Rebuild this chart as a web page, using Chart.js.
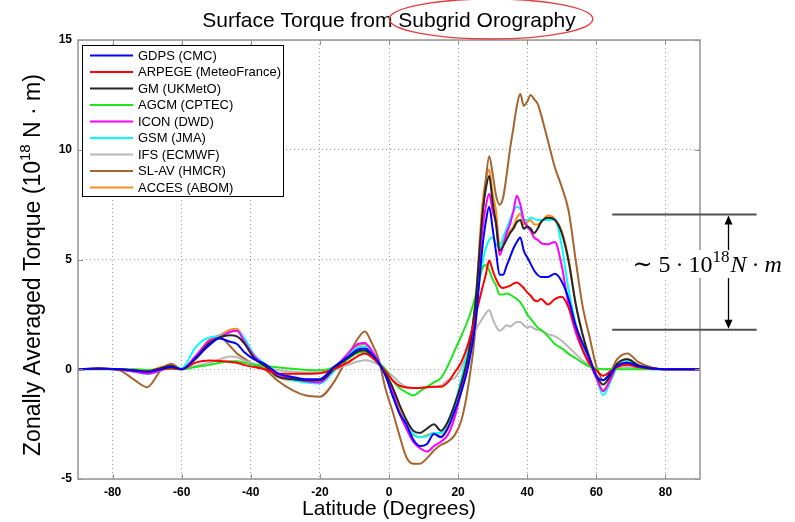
<!DOCTYPE html>
<html>
<head>
<meta charset="utf-8">
<script src="https://cdnjs.cloudflare.com/ajax/libs/Chart.js/4.4.1/chart.umd.min.js"></script>
<style>
  html, body { margin: 0; padding: 0; background: #fff; }
  canvas { display: block; }
</style>
</head>
<body>
<canvas id="torque" width="795" height="522"></canvas>
<script>
// ── Data ────────────────────────────────────────────────────────────────────

const LAT = [
  -90, -84, -78, -74, -70, -66, -63, -60,
  -56, -52, -49, -46, -44, -42, -39, -36,
  -32, -28, -24, -20, -16, -12,  -9,  -7,
   -5,  -3,  -1,   1,   3,   5,   7,   9,
   11,  13,  15,  17,  19,  21,  23,  25,
   27,  28,  29,  30,  31,  32,  33,  34,
   35,  36,  37,  38,  39,  40,  41,  42,
   43,  44,  46,  48,  50,  52,  54,  56,
   58,  60,  62,  64,  66,  69,  72,  76,
   80,  90
];

const X_TICKS = [-80, -60, -40, -20, 0, 20, 40, 60, 80];
const Y_TICKS = [-5, 0, 5, 10, 15];

const GDPS = [
  0, 0.03, 0, -0.05, -0.12, 0, 0.1, 0,
  0.5, 1.1, 1.4, 1.25, 1.15, 0.8, 0.45, 0.25,
  -0.2, -0.35, -0.45, -0.45, 0.1, 0.55, 0.9, 0.95,
  0.7, 0.3, -0.3, -1.2, -2.0, -2.5, -3.2, -3.5,
  -3.4, -2.95, -3.1, -2.7, -1.9, -1.0, 0.2, 2.1,
  5.5, 6.7, 7.4, 6.4, 5.3, 4.3, 4.3, 4.7,
  5.1, 5.5, 5.8, 6.0, 5.4, 5.1, 4.8, 4.5,
  4.3, 4.2, 4.2, 4.35, 4.0, 3.2, 2.0, 1.2,
  0.5, -0.3, -0.5, -0.2, 0.15, 0.3, 0.15, 0.03,
  0, 0
];
const ARPEGE = [
  0, 0.02, 0, -0.05, -0.1, 0, 0.05, 0,
  0.3, 0.4, 0.38, 0.33, 0.3, 0.2, 0.1, 0.0,
  -0.2, -0.2, -0.2, -0.18, 0.0, 0.3, 0.6, 0.72,
  0.55, 0.25, -0.1, -0.5, -0.75, -0.83, -0.85, -0.85,
  -0.82, -0.8, -0.8, -0.6, -0.15, 0.35, 1.2, 2.4,
  3.7, 4.3, 4.95, 4.5, 4.1, 3.8, 3.7, 3.75,
  3.8, 3.9, 3.95, 3.85, 3.7, 3.5, 3.35, 3.15,
  3.1, 3.2, 2.95, 3.2, 3.3, 2.8, 1.9, 0.9,
  0.25, -0.05, -0.3, -0.1, 0.1, 0.2, 0.1, 0.02,
  0, 0
];
const GM = [
  0, 0.02, 0, -0.05, -0.1, 0.05, 0.15, 0,
  0.5, 1.2, 1.45, 1.55, 1.5, 1.2, 0.5, 0.15,
  -0.35, -0.45, -0.5, -0.5, 0.0, 0.5, 0.8, 0.86,
  0.6, 0.3, -0.2, -0.8, -1.6, -2.3, -2.8, -2.9,
  -2.7, -2.5, -2.8, -2.4, -1.6, -0.6, 0.7, 3.0,
  7.0, 8.2, 8.8, 7.6, 6.6, 5.4, 5.6, 5.9,
  6.2, 6.4, 6.7, 6.8, 6.4, 6.5, 6.4, 6.2,
  6.4, 6.7, 6.9, 6.8, 6.2, 4.9, 3.0, 1.6,
  0.5, -0.3, -0.7, -0.3, 0.25, 0.45, 0.2, 0.05,
  0, 0
];
const AGCM = [
  0, 0, 0, 0, -0.03, 0, 0.02, 0,
  0.1, 0.2, 0.3, 0.36, 0.37, 0.3, 0.2, 0.15,
  0.08, 0.02, -0.03, -0.05, 0.1, 0.45, 0.75, 0.8,
  0.6, 0.3, 0.0, -0.5, -0.85, -1.05, -1.2, -1.0,
  -0.8, -0.6, -0.4, 0.15, 0.85, 1.55, 2.3, 3.3,
  4.6, 4.75, 4.5, 4.1, 3.8, 3.4, 3.4, 3.45,
  3.4, 3.3, 3.2, 3.05, 2.8, 2.5, 2.3, 2.1,
  1.9, 1.8, 1.5, 1.15, 0.95, 0.7, 0.5, 0.3,
  0.12, 0.02, 0, 0, 0, 0, 0, 0,
  0, 0
];
const ICON = [
  0, 0.02, -0.02, -0.1, -0.2, -0.05, 0.1, 0,
  0.6, 1.3, 1.45, 1.7, 1.75, 1.3, 0.6, 0.2,
  -0.25, -0.4, -0.55, -0.6, 0.0, 0.7, 1.15, 1.2,
  0.85, 0.35, -0.2, -1.0, -2.0, -2.7, -3.3, -3.6,
  -3.75, -3.5, -3.3, -3.0, -2.2, -0.9, 0.5, 2.6,
  6.3, 7.4, 8.0, 7.2, 6.6, 5.2, 5.6, 6.2,
  6.6, 7.2, 7.9, 7.5, 6.8, 6.5, 6.3, 6.0,
  5.9, 5.75, 5.7, 5.8, 4.7, 2.9, 1.7, 0.9,
  0.3, -0.4, -1.0, -0.5, 0.15, 0.3, 0.15, 0.03,
  0, 0
];
const GSM = [
  0, 0.02, -0.02, -0.1, -0.22, -0.05, 0.1, 0.05,
  1.0, 1.45, 1.5, 1.7, 1.75, 1.45, 0.65, 0.25,
  -0.3, -0.5, -0.6, -0.65, -0.1, 0.6, 1.0, 1.05,
  0.75, 0.3, -0.2, -1.1, -2.0, -2.6, -2.95, -3.1,
  -3.05, -2.9, -2.9, -2.4, -1.6, -0.4, 1.0, 2.8,
  4.8, 5.5, 5.9, 6.0, 5.7, 5.55, 6.0, 6.4,
  6.8, 7.2, 7.4, 7.3, 6.8, 6.8, 6.9, 6.85,
  6.8, 6.8, 6.8, 6.85, 5.6, 3.6, 2.1, 1.1,
  0.4, -0.4, -1.18, -0.6, 0.1, 0.35, 0.15, 0.03,
  0, 0
];
const IFS = [
  0, 0, 0, -0.02, -0.05, 0, 0.02, 0,
  0.15, 0.3, 0.45, 0.58, 0.55, 0.4, 0.25, 0.12,
  -0.05, -0.1, -0.15, -0.15, 0.0, 0.2, 0.35, 0.41,
  0.35, 0.2, -0.05, -0.3, -0.6, -0.8, -0.85, -0.85,
  -0.82, -0.8, -0.75, -0.5, -0.4, 0.1, 0.85, 1.75,
  2.3, 2.55, 2.7, 2.3, 1.95, 1.75, 1.85, 2.0,
  1.95, 2.05, 2.15, 2.15, 2.0, 1.9, 1.95, 1.85,
  1.8, 1.75, 1.6, 1.5, 1.3, 1.0, 0.7, 0.4,
  0.2, 0.05, 0, 0, 0.05, 0.1, 0.05, 0,
  0, 0
];
const SLAV = [
  0, 0.03, -0.05, -0.45, -0.82, -0.05, 0.25, 0,
  0.45, 1.15, 1.47, 1.05, 0.72, 0.5, 0.2, 0.0,
  -0.55, -0.95, -1.2, -1.25, -0.6, 0.55, 1.4, 1.72,
  1.2, 0.45, -0.9, -1.9, -3.0, -4.0, -4.3, -4.3,
  -4.05, -3.7, -3.45, -3.3, -3.0, -2.3, -0.7, 1.8,
  6.8, 8.6, 9.7, 8.9, 7.9, 7.5, 7.8, 8.8,
  10.0, 11.0, 12.0, 12.55, 12.0, 12.2, 12.5, 12.3,
  12.1, 11.6, 10.4, 9.2, 8.3, 7.2, 5.0, 2.9,
  1.5, 0.15, -0.5, -0.15, 0.45, 0.72, 0.35, 0.08,
  0, 0
];
const ACCES = [
  0, 0.02, 0, -0.05, -0.1, 0.1, 0.2, 0,
  0.55, 1.35, 1.55, 1.8, 1.85, 1.4, 0.55, 0.2,
  -0.35, -0.5, -0.5, -0.5, -0.1, 0.6, 1.05, 1.15,
  0.75, 0.3, -0.2, -0.9, -1.8, -2.5, -3.0, -3.1,
  -3.0, -2.9, -3.05, -2.6, -2.0, -0.8, 0.6, 3.0,
  7.5, 8.6, 9.1, 8.0, 7.2, 5.7, 5.8, 6.1,
  6.3, 6.5, 6.9, 7.1, 6.6, 6.7, 6.8, 6.6,
  6.6, 6.7, 7.0, 6.85, 6.3, 5.0, 3.0, 1.6,
  0.6, -0.3, -0.95, -0.45, 0.2, 0.45, 0.2, 0.05,
  0, 0
];

const SERIES = [
  { label: "GDPS (CMC)",           colour: "#0000ff", values: GDPS },
  { label: "ARPEGE (MeteoFrance)", colour: "#ff0000", values: ARPEGE },
  { label: "GM (UKMetO)",          colour: "#262626", values: GM },
  { label: "AGCM (CPTEC)",         colour: "#1ee61e", values: AGCM },
  { label: "ICON (DWD)",           colour: "#ff00ff", values: ICON },
  { label: "GSM (JMA)",            colour: "#00ffff", values: GSM },
  { label: "IFS (ECMWF)",          colour: "#b8b8b8", values: IFS },
  { label: "SL-AV (HMCR)",         colour: "#a6652e", values: SLAV },
  { label: "ACCES (ABOM)",         colour: "#ff8c1a", values: ACCES }
];

// spread marked on the right: roughly 1.8 .. 7.05
const BAND_LOW  = 1.8;
const BAND_HIGH = 7.05;

const SANS  = "'Liberation Sans', Arial, sans-serif";
const SERIF = "'Liberation Serif', 'DejaVu Serif', serif";
const TICK_FONT = { family: SANS, size: 12, weight: "bold" };

// ── Extra drawing: frame, titles, legend, annotation ───────────────────────

function drawYLabel(ctx, cx, cy) {
  ctx.save();
  ctx.translate(cx, cy);
  ctx.rotate(-Math.PI / 2);
  const big = `23px ${SANS}`, small = `15px ${SANS}`;
  const p1 = "Zonally Averaged Torque (10", sup = "18", p2 = " N \u00b7 m)";
  ctx.font = big;   const w1 = ctx.measureText(p1).width, w3 = ctx.measureText(p2).width;
  ctx.font = small; const w2 = ctx.measureText(sup).width;
  let xx = -(w1 + w2 + w3) / 2;
  ctx.fillStyle = "#000"; ctx.textAlign = "left"; ctx.textBaseline = "alphabetic";
  ctx.font = big;   ctx.fillText(p1, xx, 0);   xx += w1;
  ctx.font = small; ctx.fillText(sup, xx, -10); xx += w2;
  ctx.font = big;   ctx.fillText(p2, xx, 0);
  ctx.restore();
}

function drawLegend(ctx, chart, left, top) {
  const w = 201, h = 151, row = 16.5;
  ctx.fillStyle = "#fff";
  ctx.fillRect(left, top, w, h);
  ctx.strokeStyle = "#000"; ctx.lineWidth = 1;
  ctx.strokeRect(left + 0.5, top + 0.5, w, h);
  ctx.font = `13px ${SANS}`; ctx.textBaseline = "middle"; ctx.textAlign = "left";
  chart.data.datasets.forEach((ds, i) => {
    const yy = top + 10.5 + i * row;
    ctx.strokeStyle = ds.borderColor; ctx.lineWidth = 2;
    ctx.beginPath(); ctx.moveTo(left + 8, yy); ctx.lineTo(left + 51, yy); ctx.stroke();
    ctx.fillStyle = "#000";
    ctx.fillText(ds.label, left + 56, yy + 0.5);
  });
}

function drawBand(ctx, x, y) {
  const hi = y.getPixelForValue(BAND_HIGH), lo = y.getPixelForValue(BAND_LOW);
  const x0 = x.getPixelForValue(64.6), x1 = x.getPixelForValue(106.4);
  const xa = Math.round(x.getPixelForValue(98)) + 0.5;

  ctx.strokeStyle = "#505050"; ctx.lineWidth = 2;
  ctx.beginPath();
  ctx.moveTo(x0, hi); ctx.lineTo(x1, hi);
  ctx.moveTo(x0, lo); ctx.lineTo(x1, lo);
  ctx.stroke();

  // double arrow
  ctx.strokeStyle = "#000"; ctx.fillStyle = "#000"; ctx.lineWidth = 1.3;
  ctx.beginPath(); ctx.moveTo(xa, hi + 8); ctx.lineTo(xa, lo - 8); ctx.stroke();
  ctx.beginPath(); ctx.moveTo(xa, hi + 1); ctx.lineTo(xa - 4, hi + 10); ctx.lineTo(xa + 4, hi + 10); ctx.closePath(); ctx.fill();
  ctx.beginPath(); ctx.moveTo(xa, lo - 1); ctx.lineTo(xa - 4, lo - 10); ctx.lineTo(xa + 4, lo - 10); ctx.closePath(); ctx.fill();

  // "~ 5 . 10^18 N . m" on a white patch
  const base = (hi + lo) / 2;
  const sx = xa - 96;
  const reg = `24px ${SERIF}`, ita = `italic 24px ${SERIF}`, sup = `17px ${SERIF}`;
  const parts = [
    ["\u223c", reg, 0, 6], ["5", reg, 0, 5], ["\u00b7", reg, 0, 5], ["10", reg, 0, 0],
    ["18", sup, -10, 1], ["N", ita, 0, 5], ["\u00b7", reg, 0, 5], ["m", ita, 0, 0]
  ];
  let total = 0;
  for (const [txt, font, , gap] of parts) { ctx.font = font; total += ctx.measureText(txt).width + gap; }
  ctx.fillStyle = "#fff";
  ctx.fillRect(sx - 4, base - 22, total + 8, 28);
  ctx.fillStyle = "#000"; ctx.textAlign = "left"; ctx.textBaseline = "alphabetic";
  let cx = sx;
  for (const [txt, font, dy, gap] of parts) {
    ctx.font = font;
    ctx.fillText(txt, cx, base + dy);
    cx += ctx.measureText(txt).width + gap;
  }
}

const decorations = {
  id: "decorations",
  afterDraw(chart) {
    const { ctx, chartArea: a, scales: { x, y } } = chart;
    ctx.save();

    // frame + inward ticks
    ctx.strokeStyle = "#959595"; ctx.lineWidth = 1.5;
    ctx.strokeRect(a.left, a.top, a.right - a.left, a.bottom - a.top);
    ctx.lineWidth = 1;
    ctx.beginPath();
    X_TICKS.forEach(v => {
      const px = Math.round(x.getPixelForValue(v)) + 0.5;
      ctx.moveTo(px, a.bottom); ctx.lineTo(px, a.bottom - 5);
      ctx.moveTo(px, a.top);    ctx.lineTo(px, a.top + 5);
    });
    Y_TICKS.forEach(v => {
      const py = Math.round(y.getPixelForValue(v)) + 0.5;
      ctx.moveTo(a.left, py);  ctx.lineTo(a.left + 5, py);
      ctx.moveTo(a.right, py); ctx.lineTo(a.right - 5, py);
    });
    ctx.stroke();

    drawLegend(ctx, chart, a.left + 4, a.top + 5);

    // title, with the red ellipse round the last two words
    const title = "Surface Torque from Subgrid Orography";
    const marked = "Subgrid Orography";
    ctx.font = `21px ${SANS}`; ctx.fillStyle = "#000";
    ctx.textAlign = "center"; ctx.textBaseline = "alphabetic";
    const cxT = (a.left + a.right) / 2;
    ctx.fillText(title, cxT, 27);
    const tw = ctx.measureText(title).width, mw = ctx.measureText(marked).width;
    const mx = cxT + tw / 2 - mw / 2;
    ctx.strokeStyle = "#e53c3c"; ctx.lineWidth = 1.4;
    ctx.beginPath(); ctx.ellipse(mx + 4, 19, mw / 2 + 13, 20, 0, 0, Math.PI * 2); ctx.stroke();

    // axis titles
    ctx.font = `21px ${SANS}`; ctx.fillStyle = "#000";
    ctx.fillText("Latitude (Degrees)", cxT, 515);
    drawYLabel(ctx, 40, 265);

    drawBand(ctx, x, y);
    ctx.restore();
  }
};

// ── Chart ──────────────────────────────────────────────────────────────────

new Chart(document.getElementById("torque").getContext("2d"), {
  type: "line",
  data: {
    datasets: SERIES.map(s => ({
      label: s.label,
      data: s.values.map((v, i) => ({ x: LAT[i], y: v })),
      borderColor: s.colour,
      backgroundColor: s.colour,
      borderWidth: 2,
      pointRadius: 0,
      cubicInterpolationMode: "monotone",
      fill: false
    }))
  },
  options: {
    responsive: false, animation: false, devicePixelRatio: 1, events: [],
    layout: { padding: { top: 40, right: 95, bottom: 0, left: 0 } },
    plugins: { legend: { display: false }, title: { display: false }, tooltip: { enabled: false } },
    scales: {
      x: {
        type: "linear", min: -90, max: 90,
        afterBuildTicks: s => { s.ticks = X_TICKS.map(v => ({ value: v })); },
        afterFit: s => { s.height = 43; },
        grid: { color: "#a0a0a0", lineWidth: 1, drawTicks: false },
        border: { display: false, dash: [1, 3] },
        ticks: { padding: 6, color: "#000", font: TICK_FONT, maxRotation: 0, autoSkip: false }
      },
      y: {
        type: "linear", min: -5, max: 15,
        afterBuildTicks: s => { s.ticks = Y_TICKS.map(v => ({ value: v })); },
        afterFit: s => { s.width = 78; },
        grid: { color: "#a0a0a0", lineWidth: 1, drawTicks: false },
        border: { display: false, dash: [1, 3] },
        ticks: { padding: 6, color: "#000", font: TICK_FONT }
      }
    }
  },
  plugins: [decorations]
});
</script>
</body>
</html>
